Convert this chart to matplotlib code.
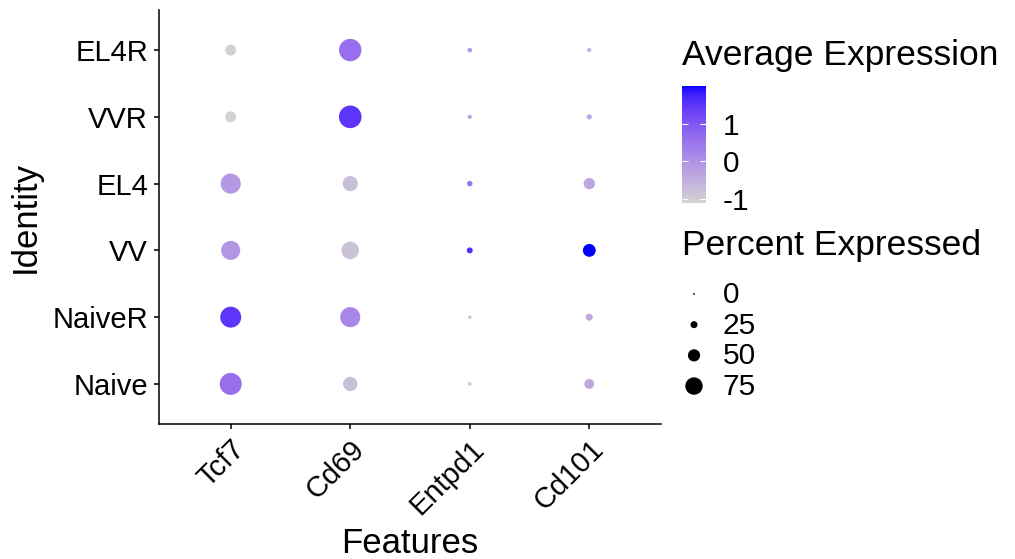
import numpy as np
import matplotlib
matplotlib.use("Agg")
import matplotlib.pyplot as plt
from matplotlib.colors import ListedColormap, Normalize, to_rgb
from matplotlib.cm import ScalarMappable

plt.rcParams['font.family'] = ['Liberation Sans', 'DejaVu Sans']

features = ["Tcf7", "Cd69", "Entpd1", "Cd101"]
identities = ["Naive", "NaiveR", "VV", "EL4", "VVR", "EL4R"]  # bottom -> top

# scaled average expression (rows = identities, cols = features)
avg_exp = [
    [0.60, -0.75, -0.90, -0.38],   # Naive
    [1.50, 0.20, -0.90, -0.42],    # NaiveR
    [-0.05, -0.80, 1.60, 2.00],    # VV
    [-0.10, -0.75, 0.50, -0.35],   # EL4
    [-1.10, 1.50, -0.20, -0.40],   # VVR
    [-1.05, 0.60, -0.10, -0.45],   # EL4R
]
# percent expressed
pct_exp = [
    [97, 60, 9, 39],
    [92, 88, 9, 25],
    [83, 76, 20, 53],
    [88, 64, 18, 46],
    [44, 100, 11, 16],
    [44, 99, 13, 11],
]
size_breaks = [0, 25, 50, 75]
cbar_ticks = [-1, 0, 1]

DPI = 100

# lightgrey -> blue gradient interpolated in Lab (like ggplot)
M = np.array([[0.4124564, 0.3575761, 0.1804375],
              [0.2126729, 0.7151522, 0.0721750],
              [0.0193339, 0.1191920, 0.9503041]])
WHITE = np.array([0.95047, 1.0, 1.08883])


def srgb_to_lab(rgb):
    c = np.asarray(rgb, dtype=float)
    lin = np.where(c <= 0.04045, c / 12.92, ((c + 0.055) / 1.055) ** 2.4)
    t = (lin @ M.T) / WHITE
    f = np.where(t > (6 / 29) ** 3, np.cbrt(t), t / (3 * (6 / 29) ** 2) + 4 / 29)
    return np.stack([116 * f[..., 1] - 16,
                     500 * (f[..., 0] - f[..., 1]),
                     200 * (f[..., 1] - f[..., 2])], -1)


def lab_to_srgb(lab):
    fy = (lab[..., 0] + 16) / 116
    f = np.stack([fy + lab[..., 1] / 500, fy, fy - lab[..., 2] / 200], -1)
    t = np.where(f > 6 / 29, f ** 3, 3 * (6 / 29) ** 2 * (f - 4 / 29))
    lin = np.clip((t * WHITE) @ np.linalg.inv(M).T, 0, 1)
    out = np.where(lin <= 0.0031308, 12.92 * lin, 1.055 * lin ** (1 / 2.4) - 0.055)
    return np.clip(out, 0, 1)


lo = srgb_to_lab(to_rgb("lightgrey"))
hi = srgb_to_lab(to_rgb("blue"))
tt = np.linspace(0, 1, 256)[:, None]
cmap = ListedColormap(lab_to_srgb(lo + (hi - lo) * tt))

vals = np.array(avg_exp)
pcts = np.array(pct_exp, dtype=float)
norm = Normalize(vmin=vals.min(), vmax=vals.max())


def dot_size(p):
    r = 0.9 + 0.104 * np.asarray(p, dtype=float)  # radius in px
    return (2 * r * 72 / DPI) ** 2


fig = plt.figure(figsize=(10.15, 5.59), dpi=DPI)
ax = fig.add_axes([159 / 1015, 1 - 424 / 559, 502 / 1015, 414 / 559])

xx, yy = np.meshgrid(np.arange(len(features)), np.arange(len(identities)))
ax.scatter(xx.ravel(), yy.ravel(), s=dot_size(pcts.ravel()), c=vals.ravel(),
           cmap=cmap, norm=norm, linewidths=0)

ax.set_xlim(-0.6, len(features) - 0.4)
ax.set_ylim(-0.6, len(identities) - 0.4)
ax.set_xticks(range(len(features)))
ax.set_xticklabels(features, rotation=45, ha='right', va='top',
                   rotation_mode='anchor', fontsize=21)
ax.set_yticks(range(len(identities)))
ax.set_yticklabels(identities, fontsize=21)
for s in ['top', 'right']:
    ax.spines[s].set_visible(False)
for s in ['left', 'bottom']:
    ax.spines[s].set_linewidth(1.1)
ax.tick_params(length=3.6, width=1.1, pad=4.3)

ax.set_xlabel("Features", fontsize=25)
ax.xaxis.set_label_coords(0.5, -0.312)
ax.xaxis.label.set_va('baseline')
ax.set_ylabel("Identity", fontsize=25)
ax.yaxis.set_label_coords(-0.247, 0.5)
ax.yaxis.label.set_va('baseline')

# colour legend
fig.text(682 / 1015, 1 - 65 / 559, "Average Expression", fontsize=25.5, va='baseline')
cax = fig.add_axes([682 / 1015, 1 - 203 / 559, 24 / 1015, 117 / 559])
cb = fig.colorbar(ScalarMappable(norm=norm, cmap=cmap), cax=cax, ticks=cbar_ticks)
cb.outline.set_visible(False)
cax.yaxis.set_ticks_position('both')
cax.tick_params(direction='in', color='white', length=4.5, width=0.8,
                labelleft=False, labelright=True, labelsize=21.5, pad=12)
cax.set_yticklabels([str(t) for t in cbar_ticks])

# size legend
fig.text(682 / 1015, 1 - 255 / 559, "Percent Expressed", fontsize=25.5, va='baseline')
lax = fig.add_axes([670 / 1015, 1 - 401.4 / 559, 110 / 1015, 122.8 / 559])
lax.set_xlim(0, 110)
lax.set_ylim(len(size_breaks) - 0.5, -0.5)
lax.axis('off')
lax.scatter([24] * len(size_breaks), range(len(size_breaks)),
            s=dot_size(size_breaks), color='black', linewidths=0)
for i, b in enumerate(size_breaks):
    lax.text(53, i + 0.03, str(b), fontsize=21.5, va='center', ha='left')

fig.savefig("out.png", dpi=DPI)
